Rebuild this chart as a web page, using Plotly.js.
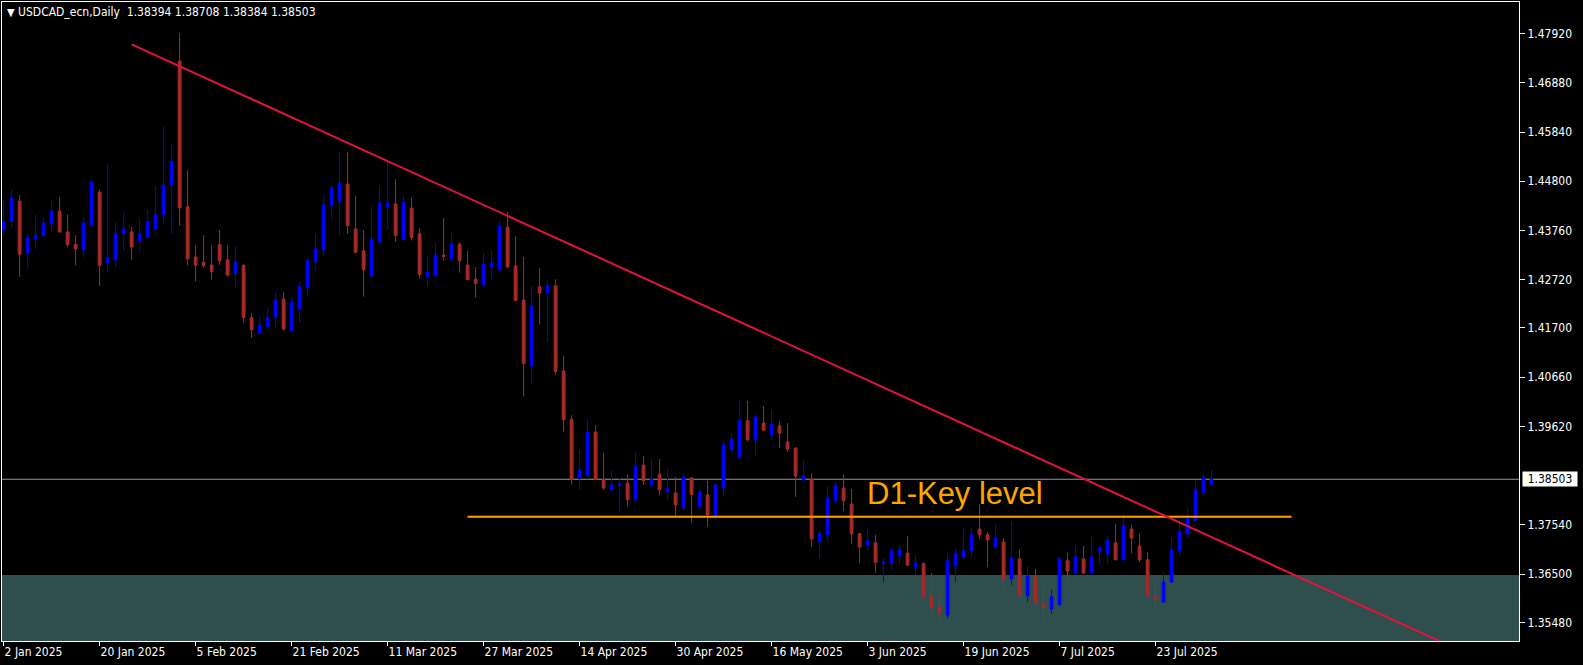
<!DOCTYPE html>
<html>
<head>
<meta charset="utf-8">
<script src="https://cdn.plot.ly/plotly-3.0.1.min.js"></script>
<style>
  html, body { margin:0; padding:0; background:#000; }
  #chart { width:1583px; height:665px; }
</style>
</head>
<body>
<div id="chart"></div>
<script>
// ---- Data (USDCAD_ecn, Daily) ----
const symbolTitle = "USDCAD_ecn,Daily";

const tickBars  = [0, 12, 24, 36, 48, 60, 72, 84, 96, 108, 120, 132, 144];
const tickDates = ["2 Jan 2025","20 Jan 2025","5 Feb 2025","21 Feb 2025","11 Mar 2025","27 Mar 2025",
                   "14 Apr 2025","30 Apr 2025","16 May 2025","3 Jun 2025","19 Jun 2025","7 Jul 2025","23 Jul 2025"];

const priceTicks = [1.47920,1.46880,1.45840,1.44800,1.43760,1.42720,1.41700,1.40660,1.39620,1.37540,1.36500,1.35480];
const priceTickText = ["1.47920","1.46880","1.45840","1.44800","1.43760","1.42720","1.41700","1.40660","1.39620","1.37540","1.36500","1.35480"];

const openP = [
1.4377,1.4395,1.4438,1.4327,1.4358,1.4365,1.4390,1.4417,1.4373,1.4347,
1.4335,1.4388,1.4457,1.4307,1.4314,1.4369,1.4373,1.4354,1.4361,1.4379,
1.4409,1.4472,1.4734,1.4426,1.4320,1.4309,1.4303,1.4346,1.4314,1.4285,
1.4302,1.4192,1.4158,1.4173,1.4193,1.4231,1.4164,1.4210,1.4255,1.4310,
1.4335,1.4428,1.4437,1.4474,1.4379,1.4333,1.4280,1.4352,1.4426,1.4432,
1.4357,1.4423,1.4369,1.4278,1.4280,1.4324,1.4316,1.4347,1.4303,1.4273,
1.4261,1.4299,1.4293,1.4383,1.4301,1.4229,1.4090,1.4257,1.4244,1.4259,
1.4079,1.3977,1.3853,1.3859,1.3950,1.3850,1.3828,1.3837,1.3842,1.3807,
1.3880,1.3838,1.3861,1.3824,1.3821,1.3790,1.3853,1.3792,1.3817,1.3773,
1.3832,1.3913,1.3896,1.3974,1.3933,1.3969,1.3944,1.3963,1.3929,1.3916,
1.3849,1.3851,1.3718,1.3733,1.3804,1.3832,1.3798,1.3735,1.3711,1.3716,
1.3672,1.3673,1.3688,1.3694,1.3665,1.3672,1.3602,1.3580,1.3563,1.3667,
1.3686,1.3699,1.3745,1.3733,1.3707,1.3718,1.3640,1.3682,1.3604,1.3644,
1.3585,1.3576,1.3585,1.3678,1.3652,1.3682,1.3652,1.3697,1.3692,1.3716,
1.3680,1.3745,1.3709,1.3680,1.3602,1.3591,1.3633,1.3699,1.3735,1.3764,
1.3823,1.38394];

const highP = [
1.4442,1.4463,1.4451,1.4369,1.4409,1.4404,1.4442,1.4447,1.4410,1.4366,
1.4402,1.4483,1.4463,1.4516,1.4392,1.4413,1.4383,1.4400,1.4419,1.4470,
1.4595,1.4558,1.4793,1.4503,1.4345,1.4366,1.4345,1.4377,1.4345,1.4343,
1.4305,1.4202,1.4195,1.4213,1.4246,1.4246,1.4235,1.4267,1.4317,1.4369,
1.4449,1.4472,1.4542,1.4542,1.4449,1.4377,1.4426,1.4472,1.4521,1.4485,
1.4451,1.4445,1.4381,1.4320,1.4350,1.4402,1.4373,1.4351,1.4333,1.4299,
1.4328,1.4333,1.4396,1.4415,1.4364,1.4320,1.4259,1.4296,1.4271,1.4273,
1.4111,1.3986,1.3912,1.3977,1.3965,1.3906,1.3870,1.3851,1.3861,1.3906,
1.3899,1.3893,1.3893,1.3872,1.3855,1.3863,1.3855,1.3830,1.3847,1.3841,
1.3933,1.3946,1.4016,1.4016,1.3986,1.4005,1.3997,1.3973,1.3969,1.3918,
1.3889,1.3863,1.3741,1.3836,1.3844,1.3861,1.3830,1.3737,1.3743,1.3733,
1.3684,1.3705,1.3709,1.3730,1.3690,1.3675,1.3652,1.3608,1.3694,1.3705,
1.3747,1.3747,1.3798,1.3739,1.3756,1.3726,1.3760,1.3701,1.3667,1.3661,
1.3625,1.3618,1.3686,1.3694,1.3711,1.3709,1.3730,1.3709,1.3730,1.3756,
1.3775,1.3754,1.3735,1.3697,1.3631,1.3656,1.3726,1.3764,1.3790,1.3847,
1.3861,1.38708];

const lowP = [
1.4366,1.4381,1.4278,1.4295,1.4337,1.4363,1.4373,1.4371,1.4341,1.4302,
1.4320,1.4383,1.4259,1.4289,1.4299,1.4333,1.4314,1.4331,1.4361,1.4379,
1.4390,1.4369,1.4386,1.4302,1.4268,1.4297,1.4272,1.4303,1.4278,1.4255,
1.4181,1.4149,1.4158,1.4173,1.4174,1.4164,1.4164,1.4181,1.4238,1.4293,
1.4321,1.4399,1.4366,1.4369,1.4328,1.4236,1.4278,1.4346,1.4378,1.4352,
1.4357,1.4355,1.4274,1.4259,1.4280,1.4312,1.4314,1.4287,1.4270,1.4234,
1.4257,1.4274,1.4291,1.4297,1.4227,1.4025,1.4052,1.4177,1.4141,1.4071,
1.3951,1.3839,1.3828,1.3850,1.3850,1.3828,1.3826,1.3780,1.3792,1.3799,
1.3839,1.3837,1.3816,1.3807,1.3773,1.3784,1.3758,1.3786,1.3750,1.3763,
1.3813,1.3906,1.3894,1.3930,1.3899,1.3954,1.3933,1.3916,1.3908,1.3813,
1.3844,1.3707,1.3684,1.3720,1.3800,1.3784,1.3713,1.3673,1.3701,1.3652,
1.3633,1.3659,1.3669,1.3667,1.3648,1.3602,1.3563,1.3553,1.3555,1.3633,
1.3678,1.3686,1.3724,1.3665,1.3705,1.3616,1.3627,1.3602,1.3591,1.3585,
1.3555,1.3566,1.3583,1.3637,1.3652,1.3652,1.3650,1.3669,1.3671,1.3680,
1.3680,1.3694,1.3675,1.3602,1.3574,1.3589,1.3631,1.3688,1.3726,1.3760,
1.3813,1.38384];

const closeP = [
1.4394,1.4444,1.4326,1.4360,1.4366,1.4392,1.4417,1.4373,1.4346,1.4337,
1.4392,1.4478,1.4302,1.4318,1.4369,1.4379,1.4341,1.4369,1.4395,1.4409,
1.4472,1.4522,1.4424,1.4316,1.4303,1.4302,1.4289,1.4312,1.4282,1.4309,
1.4192,1.4166,1.4176,1.4191,1.4229,1.4168,1.4225,1.4257,1.4312,1.4337,
1.4430,1.4466,1.4476,1.4386,1.4330,1.4293,1.4358,1.4434,1.4434,1.4365,
1.4436,1.4361,1.4283,1.4288,1.4324,1.4321,1.4347,1.4312,1.4272,1.4264,
1.4305,1.4307,1.4385,1.4299,1.4228,1.4095,1.4216,1.4244,1.4259,1.4078,
1.3976,1.3850,1.3870,1.3950,1.3850,1.3832,1.3838,1.3841,1.3807,1.3878,
1.3847,1.3850,1.3828,1.3830,1.3796,1.3855,1.3818,1.3823,1.3775,1.3838,
1.3923,1.3935,1.3974,1.3934,1.3982,1.3954,1.3967,1.3948,1.3914,1.3857,
1.3857,1.3724,1.3736,1.3811,1.3836,1.3805,1.3735,1.3707,1.3720,1.3675,
1.3675,1.3699,1.3701,1.3669,1.3673,1.3602,1.3580,1.3568,1.3678,1.3694,
1.3699,1.3733,1.3733,1.3722,1.3726,1.3640,1.3684,1.3606,1.3646,1.3589,
1.3580,1.3602,1.3682,1.3656,1.3686,1.3652,1.3686,1.3705,1.3722,1.3680,
1.3752,1.3726,1.3680,1.3604,1.3597,1.3633,1.3701,1.3739,1.3768,1.3828,
1.3853,1.38503];

const lastQuote   = ["1.38394","1.38708","1.38384","1.38503"];
const lastPrice   = 1.38503;
const trendBars   = [16, 179.45];
const trendPrices = [1.47694, 1.35085];
const keyLevelBars  = [58, 161];
const keyLevelPrice = 1.3771;
const keyLevelLabel = "D1-Key level";
const keyLabelBar   = 107.9;
const keyLabelPrice = 1.38212;
const zoneTop = 1.3648;
const yRange = [1.35085, 1.48588];
const xRange = [-0.2, 189.43];

// ---- Build ----
const bars = openP.map((_, i) => i);
const FONT = '"DejaVu Sans Condensed", "DejaVu Sans", sans-serif';
const BULL = '#0000FF', BEAR = '#A52A2A';

const trace = {
  type: 'candlestick',
  x: bars, open: openP, high: highP, low: lowP, close: closeP,
  increasing: { line: { color: BULL, width: 1 }, fillcolor: BULL },
  decreasing: { line: { color: BEAR, width: 1 }, fillcolor: BEAR },
  whiskerwidth: 0,
  hoverinfo: 'skip',
  showlegend: false
};

const layout = {
  width: 1583, height: 665,
  margin: { l: 2, r: 64, t: 2, b: 24, pad: 0 },
  paper_bgcolor: '#000000',
  plot_bgcolor: '#000000',
  boxgap: 0.5,
  showlegend: false,
  xaxis: {
    type: 'linear',
    range: xRange,
    rangeslider: { visible: false },
    tickvals: tickBars, ticktext: tickDates,
    ticks: 'outside', ticklen: 4, tickcolor: '#ffffff', tickwidth: 1,
    ticklabelposition: 'outside right',
    tickfont: { family: FONT, size: 12, color: '#ffffff' },
    showgrid: false, zeroline: false,
    showline: true, mirror: true, linecolor: '#ffffff', linewidth: 1,
    fixedrange: true
  },
  yaxis: {
    side: 'right',
    range: yRange,
    tickvals: priceTicks, ticktext: priceTickText,
    ticks: 'outside', ticklen: 5, tickcolor: '#ffffff', tickwidth: 1,
    tickfont: { family: FONT, size: 12, color: '#ffffff' },
    showgrid: false, zeroline: false,
    showline: true, mirror: true, linecolor: '#ffffff', linewidth: 1,
    fixedrange: true
  },
  shapes: [
    { type: 'rect', layer: 'below', xref: 'paper', yref: 'y',
      x0: 0, x1: 1, y0: yRange[0], y1: zoneTop,
      fillcolor: '#2F4F4F', line: { width: 0 } },
    { type: 'line', layer: 'below', xref: 'paper', yref: 'y',
      x0: 0, x1: 1, y0: lastPrice, y1: lastPrice,
      line: { color: '#9696A0', width: 1 } },
    { type: 'line', layer: 'above', xref: 'x', yref: 'y',
      x0: keyLevelBars[0], x1: keyLevelBars[1], y0: keyLevelPrice, y1: keyLevelPrice,
      line: { color: '#FFA500', width: 2 } },
    { type: 'line', layer: 'above', xref: 'x', yref: 'y',
      x0: trendBars[0], x1: trendBars[1], y0: trendPrices[0], y1: trendPrices[1],
      line: { color: '#E0143C', width: 2 } }
  ],
  annotations: [
    { xref: 'paper', yref: 'paper', x: 0, y: 1, xanchor: 'left', yanchor: 'top',
      xshift: 3, yshift: -1, showarrow: false,
      text: '<span style="font-size:11px">▼</span>\u00A0' + symbolTitle + '\u00A0\u00A0' + lastQuote.join(' '),
      font: { family: FONT, size: 12, color: '#ffffff' } },
    { xref: 'paper', yref: 'y', x: 1, y: lastPrice, xanchor: 'left', yanchor: 'middle',
      xshift: 3, showarrow: false, text: lastQuote[3],
      bgcolor: '#ffffff', borderpad: 0, width: 54, height: 14, align: 'center',
      font: { family: FONT, size: 12, color: '#000000' } },
    { xref: 'x', yref: 'y', x: keyLabelBar, y: keyLabelPrice, xanchor: 'left', yanchor: 'middle',
      xshift: -2, showarrow: false, text: keyLevelLabel,
      font: { family: '"Liberation Sans", Arial, sans-serif', size: 31, color: '#FFA500' } }
  ]
};

Plotly.newPlot('chart', [trace], layout, { displayModeBar: false, staticPlot: true });
</script>
</body>
</html>
